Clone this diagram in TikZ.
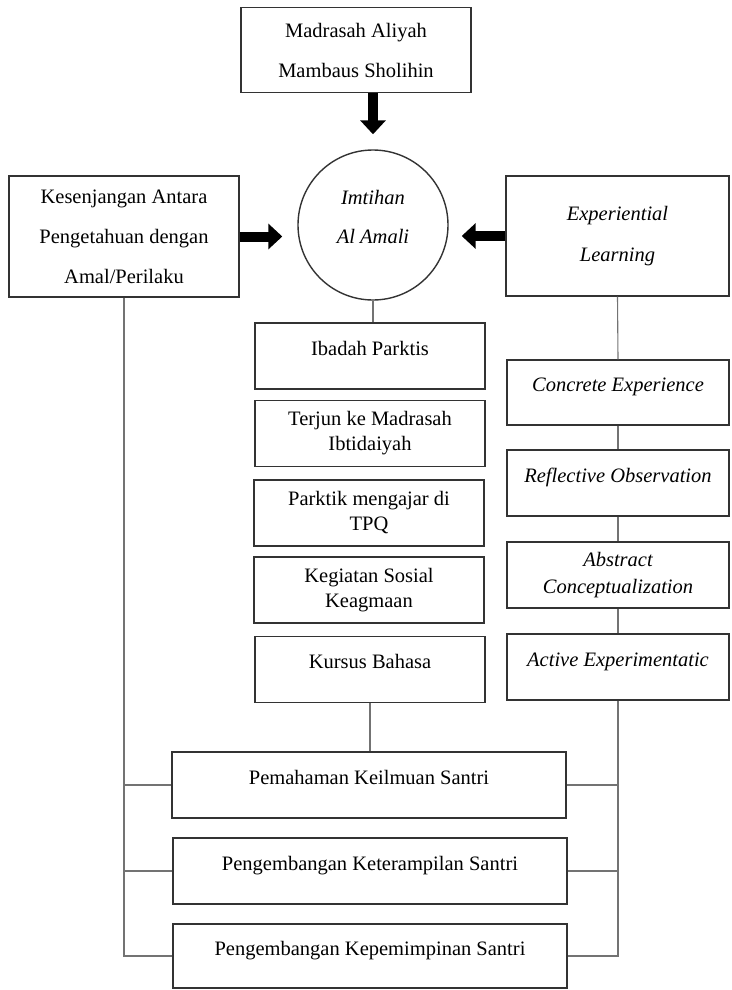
\documentclass[tikz,border=0pt]{standalone}
\usepackage{fontspec}
\setmainfont{Liberation Serif}
\usetikzlibrary{arrows.meta}
\begin{document}
\begin{tikzpicture}[x=1pt,y=-1pt,
  box/.style={draw=black!80, line width=1.4pt, align=center, inner sep=2pt,
    font=\fontsize{20.5}{25}\selectfont},
  bigbox/.style={box, font=\fontsize{20.5}{40}\selectfont},
  itbox/.style={box, font=\fontsize{20.5}{27}\selectfont\itshape},
  up/.style={text height=14pt, text depth=16pt},
  link/.style={draw=black!55, line width=1.1pt},
  blk/.style={line width=10pt, -{Triangle[length=14pt,width=25pt]}}]
\useasboundingbox (0,0) rectangle (731,990);

% top row
\node[bigbox, minimum width=230pt, minimum height=85pt] (mad) at (356,50)
  {Madrasah Aliyah\\Mambaus Sholihin};
\node[circle, draw=black!80, line width=1.4pt, minimum size=150pt, align=center,
  text depth=16pt, font=\fontsize{20.5}{39}\selectfont\itshape] (im) at (373,225)
  {Imtihan\\Al Amali};
\node[bigbox, minimum width=230pt, minimum height=121pt] (lk) at (124,236.5)
  {Kesenjangan Antara\\Pengetahuan dengan\\Amal/Perilaku};
\node[bigbox, font=\fontsize{20.5}{41}\selectfont\itshape, minimum width=223pt, minimum height=120pt] (er) at (617.5,236)
  {Experiential\\Learning};

% middle column
\node[box, up, minimum width=230pt, minimum height=66pt] (ib) at (370,356) {Ibadah Parktis};
\node[box, minimum width=230pt, minimum height=66pt] (tj) at (370,433.5) {Terjun ke Madrasah\\Ibtidaiyah};
\node[box, minimum width=230pt, minimum height=66pt] (pt) at (369,513) {Parktik mengajar di\\TPQ};
\node[box, minimum width=230pt, minimum height=66pt] (kg) at (369,590) {Kegiatan Sosial\\Keagmaan};
\node[box, up, minimum width=230pt, minimum height=66pt] (kb) at (370,669.5) {Kursus Bahasa};

% right column
\node[itbox, up, minimum width=222pt, minimum height=65pt] (ce) at (618,392.5) {Concrete Experience};
\node[itbox, up, minimum width=222pt, minimum height=66pt] (ro) at (618,483) {Reflective Observation};
\node[itbox, minimum width=222pt, minimum height=66pt] (ac) at (618,575) {Abstract\\Conceptualization};
\node[itbox, up, minimum width=222pt, minimum height=66pt] (ae) at (618,667) {Active Experimentatic};

% bottom boxes
\node[box, up, minimum width=394pt, minimum height=66pt] (b1) at (369,785) {Pemahaman Keilmuan Santri};
\node[box, up, minimum width=394pt, minimum height=66pt] (b2) at (370,871) {Pengembangan Keterampilan Santri};
\node[box, up, minimum width=394pt, minimum height=64pt] (b3) at (370,956) {Pengembangan Kepemimpinan Santri};

% block arrows
\draw[blk, shorten >=15pt] (mad.south -| im.north) -- (im.north);
\draw[blk, shorten >=15pt] (lk.east) -- (lk.east -| im.west);
\draw[blk, shorten >=13pt] (er.west) -- (er.west -| im.east);

% connectors
\draw[link] (im.south) -- (im.south |- ib.north);
\draw[link] (er.south) -- (ce.north);
\draw[link] (ce.south) -- (ro.north);
\draw[link] (ro.south) -- (ac.north);
\draw[link] (ac.south) -- (ae.north);
\draw[link] (kb.south) -- (kb.south |- b1.north);
\draw[link] (lk.south) |- (b3.west);
\draw[link] (lk.south |- b1.west) -- (b1.west);
\draw[link] (lk.south |- b2.west) -- (b2.west);
\draw[link] (ae.south) |- (b3.east);
\draw[link] (ae.south |- b1.east) -- (b1.east);
\draw[link] (ae.south |- b2.east) -- (b2.east);
\end{tikzpicture}
\end{document}
